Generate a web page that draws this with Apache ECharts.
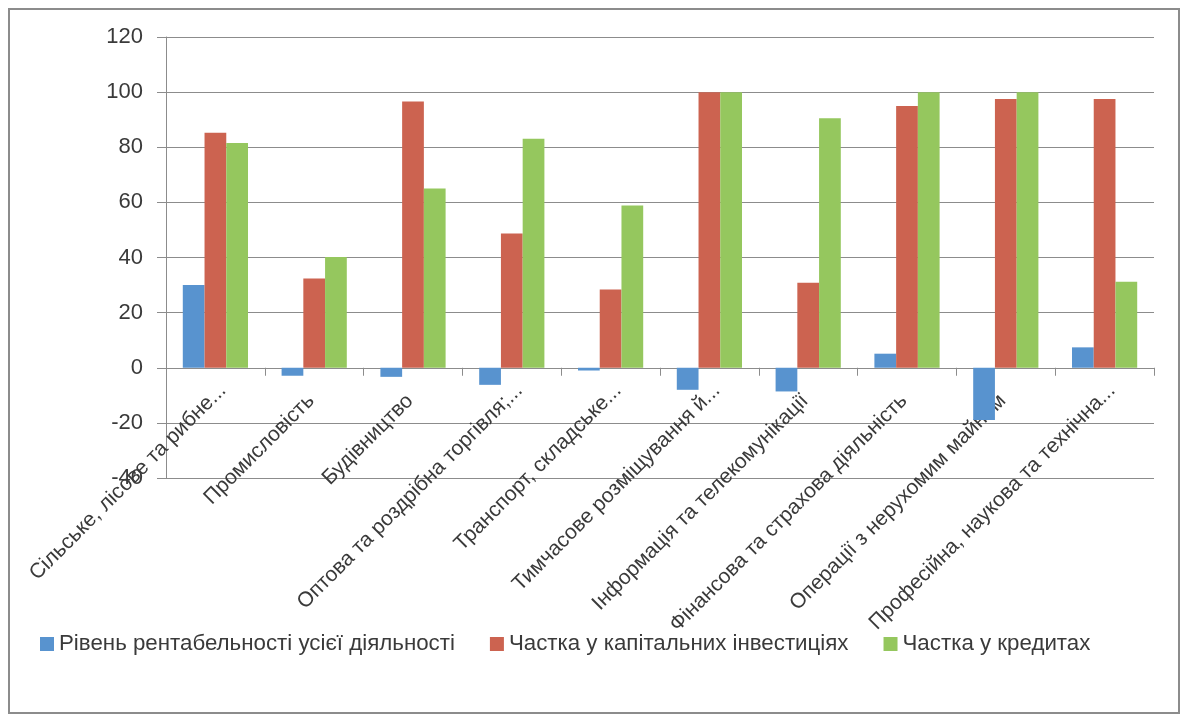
<!DOCTYPE html>
<html>
<head>
<meta charset="utf-8">
<script src="https://cdn.jsdelivr.net/npm/echarts@6/dist/echarts.min.js"></script>
<style>
html,body{margin:0;padding:0;background:#fff;}
#chart{width:1181px;height:720px;}
</style>
</head>
<body>
<div id="chart"></div>
<script>
const categories = [
  'Сільське, лісове та рибне...',
  'Промисловість',
  'Будівництво',
  'Оптова та роздрібна торгівля;...',
  'Транспорт, складське...',
  'Тимчасове розміщування й...',
  'Інформація та телекомунікації',
  'Фінансова та страхова діяльність',
  'Операції з нерухомим майном',
  'Професійна, наукова та технічна...'
];
const seriesNames = [
  'Рівень рентабельності усієї діяльності',
  'Частка у капітальних інвестиціях',
  'Частка у кредитах'
];
const profitability = [30, -2.9, -3.3, -6.2, -1, -8, -8.6, 5.1, -19, 7.4];
const capitalShare = [85.3, 32.4, 96.6, 48.7, 28.4, 100, 30.8, 95, 97.5, 97.5];
const creditShare = [81.5, 40.2, 65, 83.1, 58.9, 100, 90.5, 100, 100, 31.2];
const yTicks = { min: -40, max: 120, interval: 20 };

const FONT = 'Liberation Sans';
const TEXT = '#3a3a3a';
const colors = ['#5893cf', '#cc6350', '#95c75e'];

const chart = echarts.init(document.getElementById('chart'));
chart.setOption({
  animation: false,
  color: colors,
  textStyle: { fontFamily: FONT },
  grid: { left: 166, right: 27, top: 37, bottom: 242, containLabel: false, outerBoundsMode: 'none' },
  graphic: [{
    type: 'rect',
    shape: { x: 9, y: 9, width: 1170, height: 704 },
    style: { fill: 'none', stroke: '#8c8c8c', lineWidth: 2 },
    silent: true
  }],
  legend: {
    left: 35, top: 628,
    itemWidth: 14, itemHeight: 14, itemGap: 35,
    icon: 'rect',
    textStyle: { fontFamily: FONT, fontSize: 22.3, color: TEXT },
    data: seriesNames
  },
  xAxis: {
    type: 'category',
    data: categories,
    offset: -110.25,
    axisLine: { onZero: false, lineStyle: { color: '#8c8c8c', width: 1 } },
    axisTick: { show: true, length: 8, lineStyle: { color: '#8c8c8c' } },
    axisLabel: {
      interval: 0, rotate: 45, margin: 12, align: 'right', verticalAlign: 'top',
      fontFamily: FONT, fontSize: 21, color: TEXT,
      formatter: function (v) { return /\.\.\.$/.test(v) ? '{e|' + v + '}' : '{p|' + v + '}'; },
      rich: {
        e: { fontFamily: FONT, fontSize: 21, color: TEXT },
        p: { fontFamily: FONT, fontSize: 21, color: TEXT, padding: [0, 15, 0, 0] }
      }
    },
    splitLine: { show: false }
  },
  yAxis: {
    type: 'value',
    min: yTicks.min, max: yTicks.max, interval: yTicks.interval,
    axisLine: { show: true, lineStyle: { color: '#8c8c8c' } },
    axisTick: { show: true, length: 9, lineStyle: { color: '#8c8c8c' } },
    axisLabel: { margin: 23, fontFamily: FONT, fontSize: 22, color: TEXT },
    splitLine: { show: true, lineStyle: { color: '#8c8c8c', width: 1 } }
  },
  series: [
    { name: seriesNames[0], type: 'bar', data: profitability, barGap: '0%', barCategoryGap: '34%' },
    { name: seriesNames[1], type: 'bar', data: capitalShare, barGap: '0%', barCategoryGap: '34%' },
    { name: seriesNames[2], type: 'bar', data: creditShare, barGap: '0%', barCategoryGap: '34%' }
  ]
});
</script>
</body>
</html>
